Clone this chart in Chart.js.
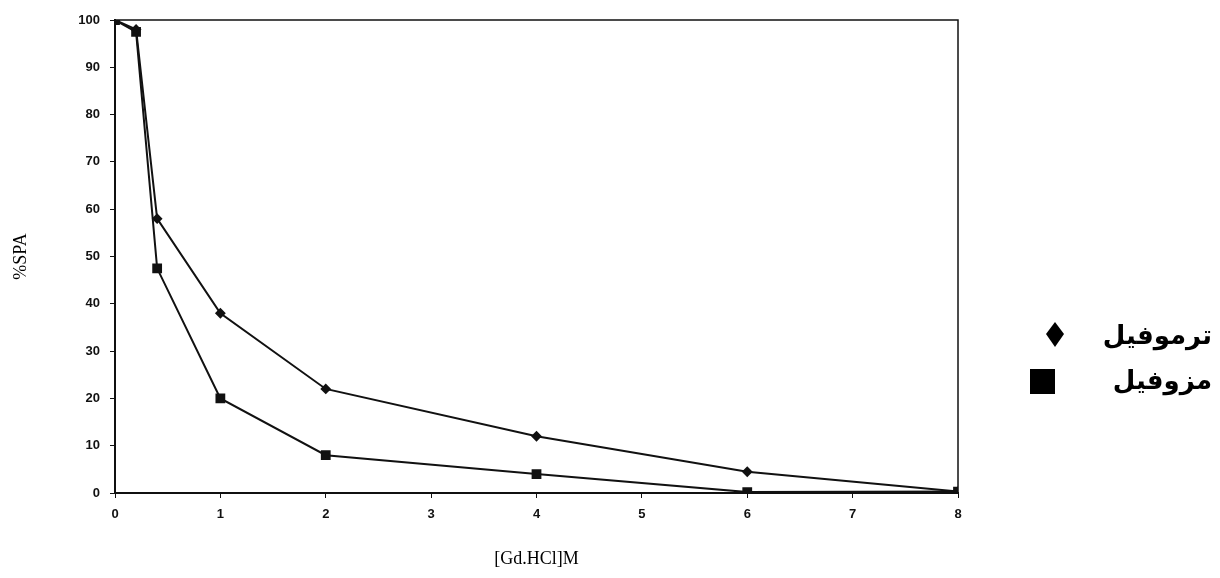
<!DOCTYPE html>
<html>
<head>
<meta charset="utf-8">
<script src="https://cdn.jsdelivr.net/npm/chart.js@4.4.1/dist/chart.umd.min.js"></script>
<style>
  html, body { margin: 0; padding: 0; background: #fff; }
  #wrap { width: 1220px; height: 578px; }
</style>
</head>
<body>
<div id="wrap"><canvas id="spaChart" width="1220" height="578"></canvas></div>
<script>
// Concentration de Gd.HCl (M)
var concentrations = [0, 0.2, 0.4, 1, 2, 4, 6, 8];
// Activite residuelle (%)
var thermoValues = [100, 98, 58, 38, 22, 12, 4.5, 0.3];
var mesoValues = [100, 97.5, 47.5, 20, 8, 4, 0.2, 0.3];
var seriesLabels = ['ترموفيل', 'مزوفيل'];
var xTitle = '[Gd.HCl]M';
var yTitle = '%SPA';

function toPoints(values) {
    return concentrations.map(function (c, i) { return { x: c, y: values[i] }; });
}

// Cadre autour de la zone du graphe
var frameBox = {
    id: 'frameBox',
    afterDraw: function (chart) {
        var a = chart.chartArea;
        var ctx = chart.ctx;
        ctx.save();
        ctx.strokeStyle = '#111';
        ctx.lineWidth = 1.5;
        ctx.strokeRect(a.left, a.top, a.right - a.left, a.bottom - a.top);
        ctx.restore();
    }
};

// Legende a droite
var sideLegend = {
    id: 'sideLegend',
    afterDraw: function (chart) {
        var ctx = chart.ctx;
        ctx.save();
        ctx.fillStyle = '#000';
        // losange
        ctx.beginPath();
        ctx.moveTo(1055, 322);
        ctx.lineTo(1064, 334);
        ctx.lineTo(1055, 347);
        ctx.lineTo(1046, 334);
        ctx.closePath();
        ctx.fill();
        // carre
        ctx.fillRect(1030, 369, 25, 25);
        ctx.font = 'bold 26px "DejaVu Sans"';
        ctx.textAlign = 'right';
        ctx.textBaseline = 'middle';
        ctx.direction = 'rtl';
        ctx.fillText(chart.data.datasets[0].label, 1212, 337);
        ctx.fillText(chart.data.datasets[1].label, 1212, 382);
        ctx.restore();
    }
};

var ctx = document.getElementById('spaChart');
var myChart = new Chart(ctx, {
    type: 'line',
    data: {
        datasets: [{
            label: seriesLabels[0],
            data: toPoints(thermoValues),
            borderColor: '#111',
            backgroundColor: '#111',
            borderWidth: 2,
            pointStyle: 'rectRot',
            pointRadius: 4,
            fill: false,
            tension: 0
        }, {
            label: seriesLabels[1],
            data: toPoints(mesoValues),
            borderColor: '#111',
            backgroundColor: '#111',
            borderWidth: 2,
            pointStyle: 'rect',
            pointRadius: 5.5,
            fill: false,
            tension: 0
        }]
    },
    options: {
        responsive: false,
        animation: false,
        layout: {
            padding: { left: 10, right: 262, top: 20, bottom: 0 }
        },
        scales: {
            x: {
                type: 'linear',
                min: 0,
                max: 8,
                ticks: {
                    stepSize: 1,
                    color: '#111',
                    padding: 9,
                    font: { family: '"Liberation Sans"', weight: 'bold', size: 13 }
                },
                grid: {
                    drawOnChartArea: false,
                    tickLength: 5,
                    color: '#111'
                },
                border: { color: '#111', width: 2 },
                title: {
                    display: true,
                    text: xTitle,
                    color: '#000',
                    font: { family: '"Liberation Serif"', size: 18 },
                    padding: { top: 0, bottom: 8 }
                },
                afterFit: function (scale) { scale.height = 85; }
            },
            y: {
                min: 0,
                max: 100,
                ticks: {
                    stepSize: 10,
                    color: '#111',
                    padding: 10,
                    font: { family: '"Liberation Sans"', weight: 'bold', size: 13 }
                },
                grid: {
                    drawOnChartArea: false,
                    tickLength: 5,
                    color: '#111'
                },
                border: { color: '#111', width: 2 },
                title: {
                    display: true,
                    text: yTitle,
                    color: '#000',
                    font: { family: '"Liberation Serif"', size: 18 },
                    padding: { top: 0, bottom: 0 }
                },
                afterFit: function (scale) { scale.width = 105; }
            }
        },
        plugins: {
            legend: { display: false },
            tooltip: { enabled: false }
        }
    },
    plugins: [frameBox, sideLegend]
});
</script>
</body>
</html>
